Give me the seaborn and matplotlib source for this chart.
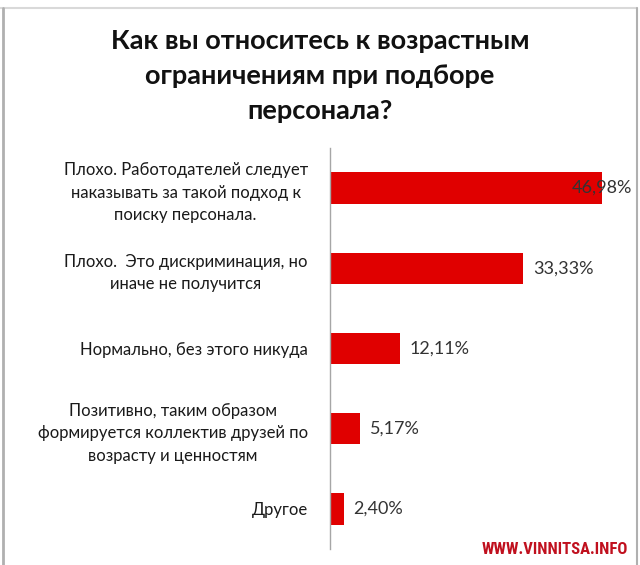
import matplotlib
matplotlib.use("Agg")
import matplotlib.pyplot as plt
import seaborn as sns
import pandas as pd
from matplotlib.lines import Line2D

categories = [
    "Плохо. Работодателей следует\nнаказывать за такой подход к\nпоиску персонала.",
    "Плохо.  Это дискриминация, но\nиначе не получится",
    "Нормально, без этого никуда",
    "Позитивно, таким образом\nформируется коллектив друзей по\nвозрасту и ценностям",
    "Другое",
]
values = [46.98, 33.33, 12.11, 5.17, 2.40]
value_labels = ["46,98%", "33,33%", "12,11%", "5,17%", "2,40%"]
title = "Как вы относитесь к возрастным\nограничениям при подборе\nперсонала?"
watermark = "WWW.VINNITSA.INFO"

sns.set_theme(style="white")
plt.rcParams["font.family"] = ["Lato", "DejaVu Sans"]

W, H = 640, 565
fig = plt.figure(figsize=(W / 100, H / 100), dpi=100)
fig.patch.set_facecolor("white")

# axes placed in pixel coordinates
ax_left, ax_right, ax_top, ax_bottom = 330, 619.5, 148, 549
ax = fig.add_axes([ax_left / W, 1 - ax_bottom / H, (ax_right - ax_left) / W, (ax_bottom - ax_top) / H])

df = pd.DataFrame({"cat": categories, "val": values})
sns.barplot(data=df, x="val", y="cat", orient="h", color="#e00000", width=0.39,
            saturation=1, ax=ax, order=categories)
for p in ax.patches:
    p.set_edgecolor("none")

ax.set_xlim(0, 50)
ax.set_ylim(4.5, -0.5)
ax.set_xlabel("")
ax.set_ylabel("")
ax.set_xticks([])
for s in ["top", "right", "bottom"]:
    ax.spines[s].set_visible(False)
ax.spines["left"].set_color("#a6a6a6")
ax.spines["left"].set_linewidth(1.0)
ax.tick_params(axis="y", length=0, pad=16)
for lab in ax.get_yticklabels():
    lab.set_multialignment("center")
    lab.set_fontsize(12)
    lab.set_linespacing(1.48)
    lab.set_color("#1a1a1a")

for i, (v, t) in enumerate(zip(values, value_labels)):
    off = -22 if i == 0 else 7
    ax.annotate(t, xy=(v, i), xytext=(off, 0), textcoords="offset points",
                ha="left", va="center", fontsize=13, color="#333333")

fig.text(320 / W, 1 - 29 / H, title, ha="center", va="top", fontsize=19.5,
         fontweight="bold", color="#111111", linespacing=1.55)

fig.text(628 / W, 1 - 549 / H, watermark, ha="right", va="center", fontsize=12,
         fontweight="bold", color="#c0101e", fontstretch="condensed",
         family=["Roboto Condensed", "Liberation Sans Narrow", "Roboto", "DejaVu Sans"])

# chart frame
fig.add_artist(Line2D([0 / W, 637 / W], [1 - 8 / H, 1 - 8 / H], color="#d9d9d9", lw=1.5,
                      transform=fig.transFigure))
fig.add_artist(Line2D([3 / W, 3 / W], [0, 1 - 8 / H], color="#b0b0b0", lw=2,
                      transform=fig.transFigure))
fig.add_artist(Line2D([637 / W, 637 / W], [0, 1 - 8 / H], color="#b0b0b0", lw=1.5,
                      transform=fig.transFigure))

fig.savefig("out.png", dpi=100)
